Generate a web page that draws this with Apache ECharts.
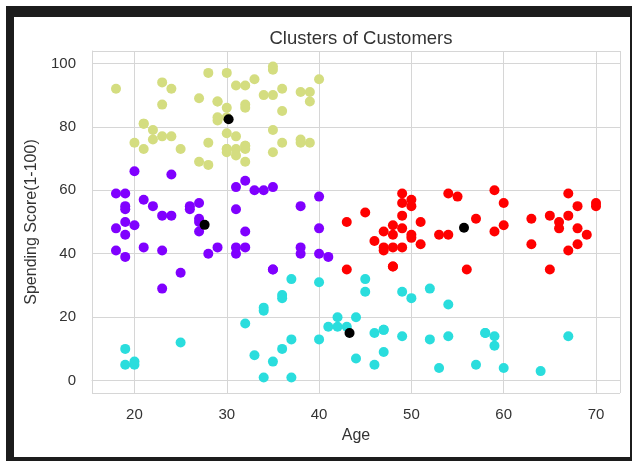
<!DOCTYPE html>
<html>
<head>
<meta charset="utf-8">
<script src="https://cdn.jsdelivr.net/npm/echarts@6/dist/echarts.min.js"></script>
<style>
  html, body { margin: 0; padding: 0; background: #fff; }
  #frame {
    position: absolute; left: 6px; top: 6px;
    width: 616px; height: 440px;
    border-style: solid; border-color: #1c1c1c;
    border-width: 11px 2px 4px 8px;
  }
  #chart { position: absolute; left: 0; top: 0; width: 632px; height: 461px; }
</style>
</head>
<body>
<div id="frame"></div>
<div id="chart"></div>
<script>
// cluster 1 - young, average spenders
var purpleAge   = [19, 31, 35, 35, 35, 31, 24, 27, 29, 31, 33, 31, 27, 19, 18, 19, 32, 26, 40, 23, 38, 21, 22, 34, 18, 40, 32, 24, 27, 20, 23, 26, 21, 19, 38, 19, 18, 19, 27, 38, 40, 23, 25, 28, 32, 41, 20];
var purpleScore = [39, 40, 35, 35, 61, 61, 65, 47, 42, 42, 60, 54, 51, 55, 59, 59, 47, 54, 48, 52, 55, 57, 55, 60, 41, 40, 42, 52, 50, 49, 41, 55, 42, 54, 42, 46, 48, 50, 56, 40, 58, 29, 34, 40, 63, 39, 66];

// cluster 2 - low spenders
var cyanAge   = [20, 35, 64, 67, 58, 37, 52, 46, 54, 45, 40, 60, 53, 49, 42, 36, 49, 59, 47, 20, 44, 19, 57, 25, 34, 43, 44, 47, 37, 34, 19, 50, 42, 36, 40, 36, 52, 58, 59, 37, 46, 54, 41, 34, 33, 47, 45, 32];
var cyanScore = [6, 6, 3, 14, 15, 13, 29, 5, 14, 32, 31, 4, 4, 14, 17, 26, 28, 11, 9, 5, 7, 10, 5, 12, 22, 17, 20, 16, 1, 1, 5, 26, 20, 27, 13, 10, 13, 15, 14, 32, 15, 24, 17, 23, 8, 16, 28, 18];

// cluster 3 - high spenders
var yellowAge   = [21, 23, 22, 23, 30, 35, 24, 22, 35, 25, 31, 29, 23, 21, 18, 21, 30, 20, 24, 39, 31, 40, 38, 39, 31, 29, 32, 35, 32, 32, 28, 32, 34, 39, 38, 27, 30, 30, 29, 31, 36, 33, 28, 36, 30, 27, 35, 32, 29, 30, 28, 36, 32, 38, 35, 32, 30];
var yellowScore = [81, 77, 76, 94, 72, 99, 77, 79, 98, 73, 73, 82, 87, 73, 92, 81, 73, 75, 92, 91, 77, 95, 75, 75, 71, 88, 73, 72, 93, 87, 97, 74, 90, 88, 76, 89, 78, 73, 83, 93, 75, 95, 75, 92, 86, 69, 90, 86, 88, 97, 68, 85, 69, 91, 79, 74, 83];

// cluster 4 - older, average spenders
var redAge   = [65, 48, 50, 49, 59, 50, 47, 51, 69, 53, 70, 67, 54, 63, 43, 68, 70, 47, 60, 60, 59, 45, 49, 57, 67, 46, 48, 55, 50, 68, 48, 47, 48, 49, 67, 49, 66, 54, 68, 66, 65, 63, 49, 51, 50, 43, 48, 56];
var redScore = [35, 36, 55, 52, 60, 45, 41, 50, 46, 46, 56, 52, 59, 51, 50, 48, 55, 42, 49, 56, 47, 53, 42, 51, 41, 44, 46, 58, 46, 55, 49, 47, 42, 48, 59, 56, 50, 46, 43, 48, 52, 43, 59, 43, 57, 35, 36, 35];

// centroids
var centroidAge   = [27.6, 43.3, 30.2, 55.7];
var centroidScore = [49.1, 15.0, 82.4, 48.2];

function pairs(xs, ys) {
  return xs.map(function (x, i) { return [x, ys[i]]; });
}

var font = "'Liberation Sans', Arial, sans-serif";
var textColor = '#333333';
var gridColor = '#d6d6d6';

var chart = echarts.init(document.getElementById('chart'), null, { renderer: 'canvas' });

function dots(name, color, xs, ys) {
  return {
    name: name,
    type: 'scatter',
    symbolSize: 10,
    itemStyle: { color: color, opacity: 1 },
    data: pairs(xs, ys)
  };
}

chart.setOption({
  animation: false,
  backgroundColor: 'transparent',
  title: {
    text: 'Clusters of Customers',
    left: 356,
    top: 24,
    textAlign: 'center',
    textStyle: { fontFamily: font, fontSize: 18.5, fontWeight: 'normal', color: textColor }
  },
  grid: { left: 92, right: 12, top: 51, bottom: 68, containLabel: false },
  xAxis: {
    type: 'value',
    min: 15.4,
    max: 72.6,
    name: 'Age',
    nameLocation: 'middle',
    nameGap: 35,
    nameTextStyle: { fontFamily: font, fontSize: 16, color: textColor },
    axisLine: { show: true, lineStyle: { color: gridColor, width: 1 } },
    axisTick: { show: false },
    axisLabel: { showMinLabel: false, showMaxLabel: false, margin: 14, fontFamily: font, fontSize: 15, color: textColor },
    splitLine: { show: true, lineStyle: { color: gridColor, width: 1 } }
  },
  yAxis: {
    type: 'value',
    min: -3.9,
    max: 103.9,
    name: 'Spending Score(1-100)',
    nameLocation: 'middle',
    nameGap: 52,
    nameTextStyle: { fontFamily: font, fontSize: 16, color: textColor },
    axisLine: { show: true, lineStyle: { color: gridColor, width: 1 } },
    axisTick: { show: false },
    axisLabel: { showMinLabel: false, showMaxLabel: false, margin: 16, fontFamily: font, fontSize: 15, color: textColor },
    splitLine: { show: true, lineStyle: { color: gridColor, width: 1 } }
  },
  series: [
    dots('Cluster 1', '#8000ff', purpleAge, purpleScore),
    dots('Cluster 2', '#2adddd', cyanAge, cyanScore),
    dots('Cluster 3', '#d4dd80', yellowAge, yellowScore),
    dots('Cluster 4', '#ff0000', redAge, redScore),
    dots('Centroids', '#000000', centroidAge, centroidScore)
  ]
});
</script>
</body>
</html>
